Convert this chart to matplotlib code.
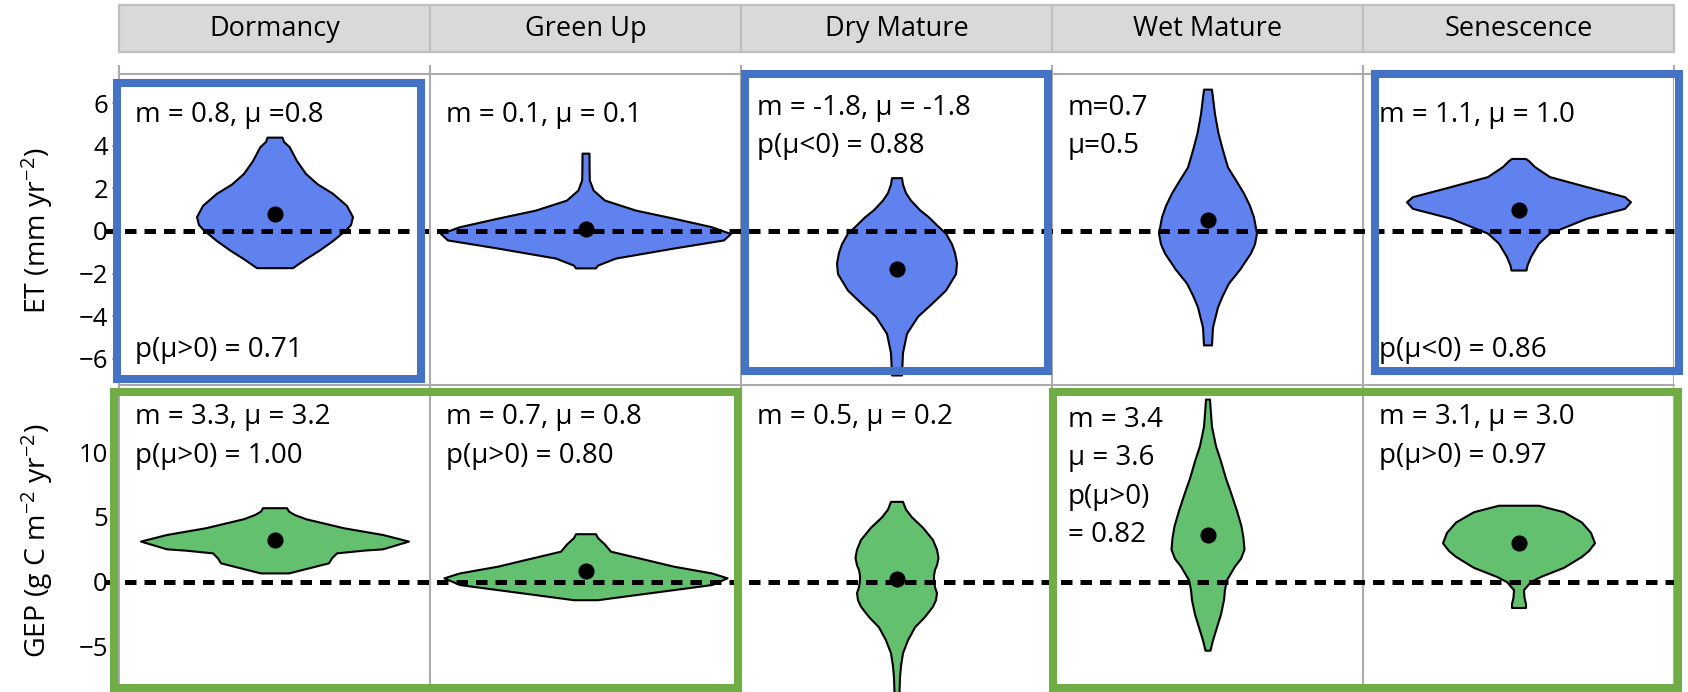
import numpy as np
import matplotlib.pyplot as plt
from matplotlib.patches import Rectangle

plt.rcParams["font.family"] = ["Open Sans", "DejaVu Sans"]
plt.rcParams["mathtext.default"] = "regular"

PHASES = ["Dormancy", "Green Up", "Dry Mature", "Wet Mature", "Senescence"]

# posterior trend densities per phase: trend value and violin half-width
# (half-widths in width units, WIDTH_UNIT of them per column)
WIDTH_UNIT = 311.0

et_dorm_y = [4.4, 4.2, 3.95, 3.3, 2.7, 2.2, 1.77, 1.2, 0.67, 0.3, 0.05, -0.45, -0.9, -1.3, -1.72]
et_dorm_w = [7.5, 9, 14.7, 22, 31, 43, 58, 72, 78, 76, 71, 58, 44.5, 31, 18]
et_gu_y = [3.65, 3.0, 2.4, 1.92, 1.45, 0.98, 0.6, 0.2, -0.12, -0.42, -0.8, -1.27, -1.6, -1.73]
et_gu_w = [3.5, 3.6, 3.8, 7.6, 19, 50, 88, 126, 145, 138, 88, 30, 12, 10]
et_dm_y = [2.5, 2.2, 1.8, 1.45, 1.0, 0.66, 0.2, -0.1, -0.6, -1.0, -1.5, -2.0, -2.77, -3.4, -4.0, -4.8, -5.7, -6.75]
et_dm_w = [5, 6, 9, 14, 23, 32, 42, 49, 55, 58, 60, 59, 49, 35, 21, 10, 6, 5]
et_wm_y = [6.65, 5.5, 4.6, 3.8, 3.0, 2.4, 1.78, 1.2, 0.66, -0.1, -0.6, -1.03, -1.8, -2.44, -3.0, -3.56, -4.5, -5.34]
et_wm_w = [4, 7, 10.5, 15, 20, 28, 36, 42, 46, 49, 47, 43, 32, 21, 15, 10, 5, 4]
et_sen_y = [3.4, 3.3, 3.02, 2.55, 2.08, 1.61, 1.37, 1.06, 0.6, -0.1, -0.57, -1.2, -1.6, -1.83]
et_sen_w = [7, 10, 16, 31, 68, 106, 112, 106, 68, 31, 20, 12, 8.5, 7.5]

gep_dorm_y = [5.71, 5.45, 5.19, 4.86, 4.16, 3.64, 3.13, 2.53, 2.43, 2.22, 1.83, 1.45, 1.0, 0.67]
gep_dorm_w = [12, 14, 19.7, 31, 69, 108, 134, 108, 89, 62, 57, 54, 31, 14]
gep_gu_y = [3.7, 3.4, 2.9, 2.35, 1.8, 1.19, 0.67, 0.29, -0.23, -0.62, -1.09, -1.4]
gep_gu_w = [10, 12, 19, 25, 55, 88, 126, 141.6, 126, 88, 42, 12]
gep_dm_y = [6.2, 5.6, 5.0, 4.2, 3.25, 2.5, 1.86, 1.3, 0.93, 0.5, 0.15, -0.4, -0.85, -1.4, -1.9, -2.7, -3.5, -4.5, -5.5, -6.5, -7.4, -8.6]
gep_dm_w = [6, 9, 15, 26, 36, 40, 41.5, 40, 38, 37, 37, 38, 40, 39, 36, 28, 18, 11, 6, 4, 3, 2.5]
gep_wm_y = [14.1, 13.0, 12.0, 10.5, 9.45, 8.0, 6.9, 5.5, 4.3, 3.4, 2.5, 1.8, 1.2, 0.15, -0.6, -1.4, -2.5, -3.5, -4.5, -5.3]
gep_wm_w = [2, 3, 4, 8, 12.5, 18, 23, 29, 33.5, 35.5, 36.5, 33, 27, 19, 17, 16, 13, 9, 5, 2.5]
gep_sen_y = [5.9, 5.4, 4.6, 3.8, 3.0, 2.4, 1.95, 1.1, 0.4, 0.0, -0.62, -1.2, -1.7, -2.0]
gep_sen_w = [20, 45, 63, 72, 76, 70, 63, 45, 22, 12, 5, 5.5, 7, 7]

ET_PROFILES = [(et_dorm_y, et_dorm_w), (et_gu_y, et_gu_w), (et_dm_y, et_dm_w),
               (et_wm_y, et_wm_w), (et_sen_y, et_sen_w)]
GEP_PROFILES = [(gep_dorm_y, gep_dorm_w), (gep_gu_y, gep_gu_w), (gep_dm_y, gep_dm_w),
                (gep_wm_y, gep_wm_w), (gep_sen_y, gep_sen_w)]

# posterior means (dots)
et_mu = [0.8, 0.1, -1.8, 0.5, 1.0]
gep_mu = [3.2, 0.8, 0.2, 3.6, 3.0]

ET_NOTES = ["m = 0.8, μ =0.8", "m = 0.1, μ = 0.1", "m = -1.8, μ = -1.8\np(μ<0) = 0.88",
            "m=0.7\nμ=0.5", "m = 1.1, μ = 1.0"]
ET_FOOT = ["p(μ>0) = 0.71", "", "", "", "p(μ<0) = 0.86"]
GEP_NOTES = ["m = 3.3, μ = 3.2\np(μ>0) = 1.00", "m = 0.7, μ = 0.8\np(μ>0) = 0.80",
             "m = 0.5, μ = 0.2", "m = 3.4\nμ = 3.6\np(μ>0)\n= 0.82",
             "m = 3.1, μ = 3.0\np(μ>0) = 0.97"]

ET_BLUE = "#5F82EF"
GEP_GREEN = "#63C06E"
FRAME = "#ABABAB"
NOTE_SIZE = 20
TICK_SIZE = 18.5

# ---- layout in pixels -------------------------------------------------------
W, H = 1688, 692
L, R = 119, 1674
CW = (R - L) / 5
ET_TOP, MID, BOT = 74, 385, 692


def fx(px):
    return px / W


def fy(py):
    return 1 - py / H


def edge(i):
    return L + i * CW


fig = plt.figure(figsize=(W / 100, H / 100), dpi=100)
ax_et = fig.add_axes([fx(L), fy(MID), (R - L) / W, (MID - ET_TOP) / H])
ax_gep = fig.add_axes([fx(L), fy(BOT), (R - L) / W, (BOT - MID) / H])

ax_et.set_ylim(-7.22, 7.36)
ax_gep.set_ylim(-8.53, 15.19)

x = np.arange(1, 6)
for ax, profiles, mu, color in [(ax_et, ET_PROFILES, et_mu, ET_BLUE),
                                (ax_gep, GEP_PROFILES, gep_mu, GEP_GREEN)]:
    ax.set_xlim(0.5, 5.5)
    for xc, (yy, ww) in zip(x, profiles):
        hw = np.asarray(ww) / WIDTH_UNIT
        ax.fill_betweenx(yy, xc - hw, xc + hw, facecolor=color, edgecolor="black",
                         linewidth=1.5, zorder=2)
    ax.axhline(0, xmin=-14 / (R - L), xmax=1, color="black", lw=3.6,
               dashes=(2.3, 1.6), clip_on=False, zorder=3)
    ax.scatter(x, mu, s=135, color="black", zorder=4, linewidths=0)

    for s in ["right", "bottom"]:
        ax.spines[s].set_visible(False)
    for s in ["left", "top"]:
        ax.spines[s].set_color(FRAME)
        ax.spines[s].set_linewidth(1.5)
    for xb in [1.5, 2.5, 3.5, 4.5, 5.5]:
        ax.axvline(xb, color=FRAME, lw=1.5, zorder=1)
    ax.set_xticks([])
    ax.tick_params(axis="y", direction="out", length=5, width=1.1, color=FRAME,
                   labelsize=TICK_SIZE, pad=3)
    ax.tick_params(axis="y", which="minor", direction="out", length=3, width=1.1,
                   color=FRAME)

ax_et.set_yticks([-6, -4, -2, 0, 2, 4, 6])
ax_et.set_yticks([-7, -5, -3, -1, 1, 3, 5, 7], minor=True)
ax_gep.set_yticks([-5, 0, 5, 10])

# column lines poke up above the ET frame
ax_et.vlines([0.5, 1.5, 2.5, 3.5, 4.5, 5.5], 7.36, 7.36 + 9 / 21.33,
             color=FRAME, lw=1.5, clip_on=False)

fig.text(fx(37), fy(231), "ET (mm yr$^{-2}$)", rotation=90, ha="center",
         va="center", fontsize=20.5)
fig.text(fx(37), fy(541), "GEP (g C m$^{-2}$ yr$^{-2}$)", rotation=90, ha="center",
         va="center", fontsize=20.5)

# phase header strip
for i, name in enumerate(PHASES):
    fig.add_artist(Rectangle((fx(edge(i)), fy(52)), CW / W, 47 / H,
                             transform=fig.transFigure, facecolor="#D9D9D9",
                             edgecolor="#BFBFBF", lw=1.6))
    fig.text(fx(edge(i) + CW / 2), fy(29), name, ha="center", va="center",
             fontsize=19.5)

# statistics text
STEP = 38.5
et_first = [115, 115, 108, 108, 115]
for i in range(5):
    for k, line in enumerate(ET_NOTES[i].split("\n")):
        fig.text(fx(edge(i) + 16), fy(et_first[i] + k * STEP), line,
                 ha="left", va="center", fontsize=NOTE_SIZE)
    if ET_FOOT[i]:
        fig.text(fx(edge(i) + 16), fy(350), ET_FOOT[i], ha="left", va="center",
                 fontsize=NOTE_SIZE)
gep_first = [417, 417, 417, 420, 417]
for i in range(5):
    for k, line in enumerate(GEP_NOTES[i].split("\n")):
        fig.text(fx(edge(i) + 16), fy(gep_first[i] + k * STEP), line,
                 ha="left", va="center", fontsize=NOTE_SIZE)

# highlight frames around the notable phases
BOXES = [
    ("#4472C4", edge(0) - 2, 83, edge(1) - 9, 379),
    ("#4472C4", edge(2) + 4, 74, edge(3) - 4, 371),
    ("#4472C4", edge(4) + 12, 74, edge(5) + 5, 371),
    ("#70AD47", edge(0) - 5, 392, edge(2) - 3, 688),
    ("#70AD47", edge(3) + 1, 392, edge(5) + 4, 688),
]
for color, x0, y0, x1, y1 in BOXES:
    fig.add_artist(Rectangle((fx(x0), fy(y1)), (x1 - x0) / W, (y1 - y0) / H,
                             transform=fig.transFigure, fill=False,
                             edgecolor=color, lw=5.8, joinstyle="miter"))

fig.savefig("out.png", dpi=100)
